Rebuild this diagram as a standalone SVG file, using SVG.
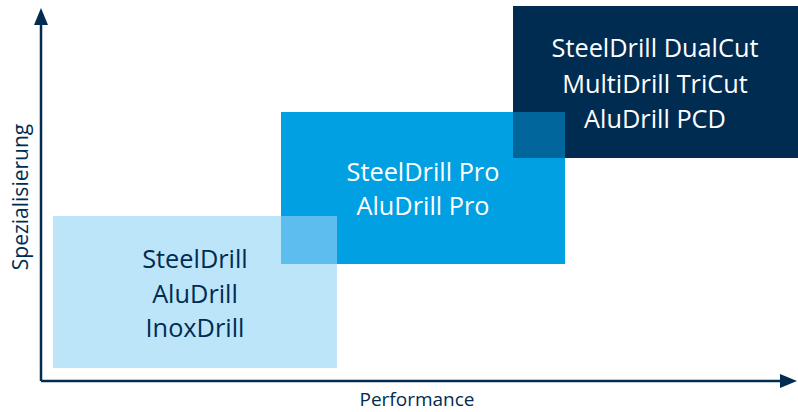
<svg xmlns="http://www.w3.org/2000/svg" width="798" height="412" viewBox="0 0 798 412">
  <defs>
    <style>
      .lbl { font-family: "Open Sans", "Noto Sans", "Liberation Sans", sans-serif; text-anchor: middle; }
      .big { font-size: 25.3px; }
      .axis { fill: #002c52; }
      .axisline { stroke: #002c52; stroke-width: 2.5; fill: none; }
    </style>
    <marker id="arr" markerWidth="17" markerHeight="14" refX="0" refY="7" orient="auto" markerUnits="userSpaceOnUse">
      <path d="M0,0 L17,7 L0,14 Z" fill="#002c52"/>
    </marker>
  </defs>
  <rect width="798" height="412" fill="#ffffff"/>

  <g id="box-basic">
    <rect x="53" y="216" width="284" height="152" fill="#bde5f9"/>
    <text class="lbl big" fill="#002c52" x="195" y="268">SteelDrill</text>
    <text class="lbl big" fill="#002c52" x="195" y="303">AluDrill</text>
    <text class="lbl big" fill="#002c52" x="195" y="337">InoxDrill</text>
  </g>

  <g id="box-pro">
    <rect x="281" y="112" width="284" height="152" fill="#00a0e3"/>
    <rect x="281" y="216" width="56" height="48" fill="#5ebdef"/>
    <text class="lbl big" fill="#ffffff" x="423" y="181">SteelDrill Pro</text>
    <text class="lbl big" fill="#ffffff" x="423" y="215">AluDrill Pro</text>
  </g>

  <g id="box-special">
    <rect x="513" y="6" width="285" height="152" fill="#002c52"/>
    <rect x="513" y="112" width="52" height="46" fill="#00669c"/>
    <text class="lbl big" fill="#ffffff" x="655" y="57">SteelDrill DualCut</text>
    <text class="lbl big" fill="#ffffff" x="655" y="93">MultiDrill TriCut</text>
    <text class="lbl big" fill="#ffffff" x="655" y="128">AluDrill PCD</text>
  </g>

  <g id="connectors">
    <path class="axisline" d="M41,381 L41,25" marker-end="url(#arr)"/>
    <path class="axisline" d="M41,381 L780,381" marker-end="url(#arr)"/>
  </g>

  <g id="axis-labels">
    <text class="lbl axis" font-size="19" x="417" y="406">Performance</text>
    <text class="lbl axis" font-size="21" transform="translate(28,197) rotate(-90)">Spezialisierung</text>
  </g>
</svg>
